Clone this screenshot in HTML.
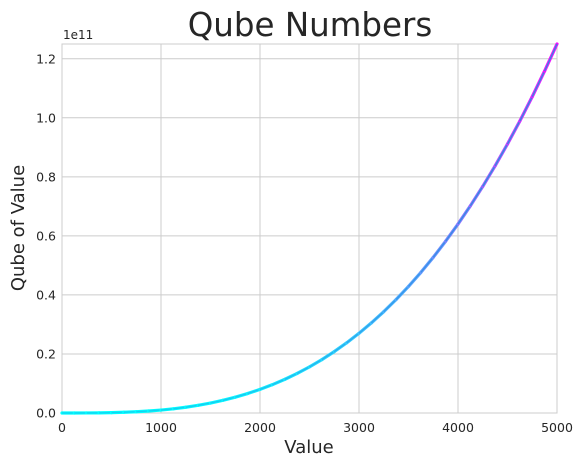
<!DOCTYPE html>
<html><head><meta charset="utf-8"><style>
body{margin:0;background:#fff;font-family:"Liberation Sans","DejaVu Sans",sans-serif}
</style></head><body>
<svg width="584" height="467" xmlns="http://www.w3.org/2000/svg" font-family="'DejaVu Sans','Liberation Sans',sans-serif">
<g id="grid"></g>
<rect x="62" y="44" width="495" height="369" fill="none" stroke="#cccccc" stroke-width="1"/>
<g id="series"></g>
<g id="ticks" font-size="12.5" fill="#262626"></g>
<text x="310" y="36" text-anchor="middle" font-size="32.5" fill="#262626">Qube Numbers</text>
<text x="309" y="453" text-anchor="middle" font-size="18" fill="#262626">Value</text>
<text transform="translate(24,228) rotate(-90)" text-anchor="middle" font-size="18" fill="#262626">Qube of Value</text>
<text x="63" y="39" font-size="12" fill="#262626">1e11</text>
</svg>
<script>
const xValues=[0,125,250,375,500,625,750,875,1000,1125,1250,1375,1500,1625,1750,1875,2000,2125,2250,2375,2500,2625,2750,2875,3000,3125,3250,3375,3500,3625,3750,3875,4000,4125,4250,4375,4500,4625,4750,4875,5000];
const yValues=[0,1953125,15625000,52734375,125000000,244140625,421875000,669921875,1000000000,1423828125,1953125000,2599609375,3375000000,4291015625,5359375000,6591796875,8000000000,9595703125,11390625000,13396484375,15625000000,18087890625,20796875000,23763671875,27000000000,30517578125,34328125000,38443359375,42875000000,47634765625,52734375000,58185546875,64000000000,70189453125,76765625000,83740234375,91125000000,98931640625,107171875000,115857421875,125000000000];
const xTicks=[0,1000,2000,3000,4000,5000];
const yTicks=[0,0.2,0.4,0.6,0.8,1.0,1.2];
const L=62,R=557,T=44,B=413,XMAX=5000,YMAX=1.25e11;
const sx=v=>L+(v/XMAX)*(R-L);
const sy=v=>B-(v/YMAX)*(B-T);
const NS="http://www.w3.org/2000/svg";
const grid=document.getElementById('grid'),ticks=document.getElementById('ticks'),ser=document.getElementById('series');
xTicks.forEach(t=>{
 const l=document.createElementNS(NS,'line');
 
 
 l.setAttribute('x1',sx(t));l.setAttribute('x2',sx(t));l.setAttribute('y1',T);l.setAttribute('y2',B);l.setAttribute('stroke','#cccccc');
 grid.appendChild(l);
 const tx=document.createElementNS(NS,'text');
 
 
 tx.setAttribute('x',sx(t));tx.setAttribute('y',B+19);tx.setAttribute('text-anchor','middle');tx.textContent=t;
 ticks.appendChild(tx);
});
yTicks.forEach(t=>{
 const y=sy(t*1e11);
 const l=document.createElementNS(NS,'line');
 
 
 l.setAttribute('x1',L);l.setAttribute('x2',R);l.setAttribute('y1',y);l.setAttribute('y2',y);l.setAttribute('stroke','#cccccc');
 grid.appendChild(l);
 const tx=document.createElementNS(NS,'text');
 
 
 tx.setAttribute('x',L-6);tx.setAttribute('y',y+4.5);tx.setAttribute('text-anchor','end');tx.textContent=t.toFixed(1);
 ticks.appendChild(tx);
});
function cool(f){return `rgb(${Math.round(255*f)},${Math.round(255*(1-f))},255)`;}
for(let i=0;i<xValues.length-1;i++){
 const f=(yValues[i]+yValues[i+1])/2/YMAX;
 const l=document.createElementNS(NS,'line');
 
 
 l.setAttribute('x1',sx(xValues[i]));l.setAttribute('y1',sy(yValues[i]));
 l.setAttribute('x2',sx(xValues[i+1]));l.setAttribute('y2',sy(yValues[i+1]));
 l.setAttribute('stroke',cool(f));l.setAttribute('stroke-width','3.2');l.setAttribute('stroke-linecap','round');
 ser.appendChild(l);
 const c=document.createElementNS(NS,'line');
 
 
 c.setAttribute('x1',sx(xValues[i]));c.setAttribute('y1',sy(yValues[i]));
 c.setAttribute('x2',sx(xValues[i+1]));c.setAttribute('y2',sy(yValues[i+1]));
 c.setAttribute('stroke','#2a90e0');c.setAttribute('stroke-width','1.3');c.setAttribute('stroke-opacity',Math.min(1,0.4+f));
 ser.appendChild(c);
}
</script>
</body></html>
